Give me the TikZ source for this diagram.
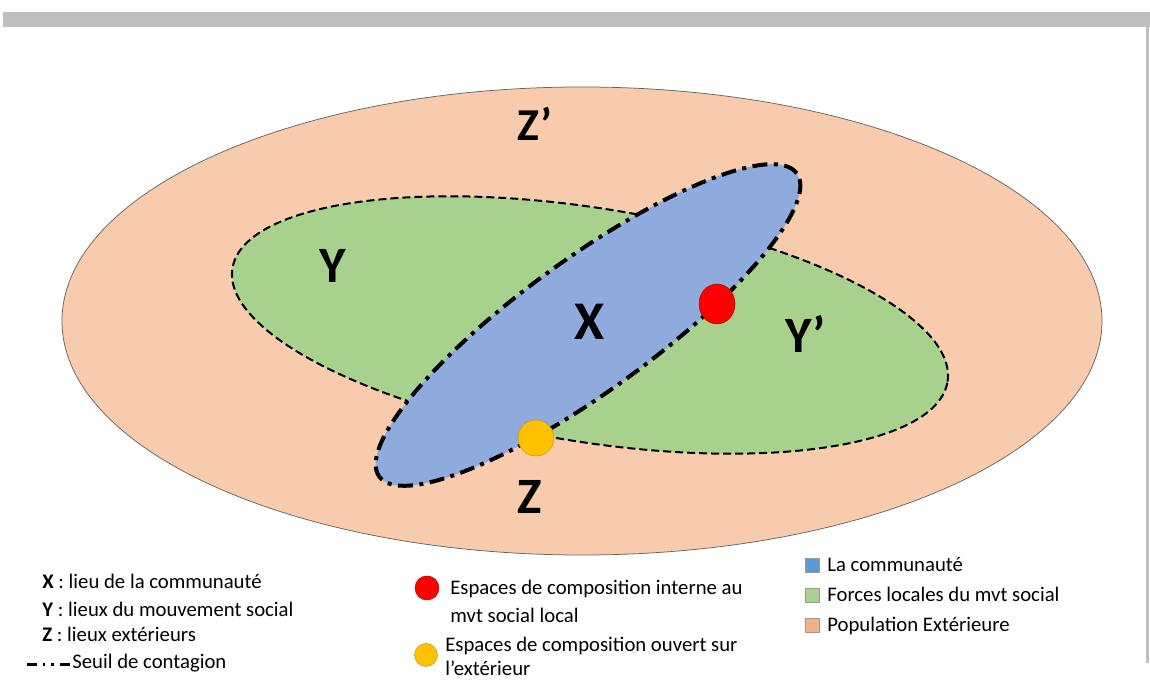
\documentclass[tikz,border=0pt]{standalone}
\usepackage{fontspec}
\setmainfont{Carlito}
\usetikzlibrary{positioning}
\definecolor{peach}{HTML}{F8CBAD}
\definecolor{leafgreen}{HTML}{A9D18E}
\definecolor{skyblue}{HTML}{8FAADC}
\definecolor{boxblue}{HTML}{5B9BD5}
\definecolor{boxorange}{HTML}{F4B183}
\definecolor{dotyellow}{HTML}{FFC000}
\definecolor{bargray}{HTML}{BFBFBF}

\begin{document}
\begin{tikzpicture}[x=0.2mm,y=0.2mm,
zone/.style={font=\fontsize{29}{34}\selectfont\bfseries,inner sep=0pt},
legtext/.style={font=\fontsize{11.8}{14}\selectfont,anchor=base west,inner sep=0pt},
legbox/.style={draw=black!40,minimum size=2.8mm,inner sep=0pt},
seuil/.style={line width=0.8mm,dash pattern=on 3mm off 1.3mm on 0.8mm off 1.3mm},
mvtline/.style={line width=0.4mm,dash pattern=on 1.6mm off 0.8mm}]
\useasboundingbox (0,0) rectangle (1150,681);
% frame
\fill [bargray] (3,654) rectangle (1150,669);
\draw [bargray,line width=0.7mm] (1147.5,654) -- (1147.5,18);
% zones
\filldraw [fill=peach,draw=black!60,line width=0.15mm] (582,360) ellipse [x radius=520,y radius=234];
\filldraw [fill=leafgreen,mvtline,rotate around={-9:(590,356)}] (590,356) ellipse [x radius=362,y radius=117];
\filldraw [fill=skyblue,seuil,rotate around={36:(588,356)}] (588,356) ellipse [x radius=258,y radius=66];
\filldraw [fill=red,draw=red!70!black,line width=0.1mm] (717,377) ellipse [x radius=18,y radius=20];
\filldraw [fill=dotyellow,draw=dotyellow!80!black,line width=0.1mm] (536,243) circle [radius=18];
\node (zext) [zone,font=\fontsize{26}{30}\selectfont\bfseries] at (535,557) {Z’};
\node (ymvt) [zone] at (333,415) {Y};
\node (xcom) [zone,font=\fontsize{31}{36}\selectfont\bfseries] at (589,359) {X};
\node (yint) [zone] at (806,347) {Y’};
\node (zlieu) [zone] at (530,184) {Z};
% legend, left
\node (lx) [legtext] at (42,92) {\textbf{X} : lieu de la communauté};
\node (ly) [legtext] at (42,64) {\textbf{Y} : lieux du mouvement social};
\node (lz) [legtext] at (42,39) {\textbf{Z} : lieux extérieurs};
\coordinate (seuilA) at (27,16);
\coordinate (seuilB) at (70,16);
\draw [line width=0.6mm,dash pattern=on 1.9mm off 1.2mm on 0.55mm off 1.2mm on 0.55mm off 1.2mm] (seuilA) -- (seuilB);
\node (lseuil) [legtext] at (72,12) {Seuil de contagion};
% legend, middle
\filldraw [fill=red,draw=red!70!black,line width=0.1mm] (427,93) circle [radius=12];
\node (linterne) [legtext] at (450,86) {Espaces de composition interne au};
\node (linterne2) [legtext] at (450,58) {mvt social local};
\filldraw [fill=dotyellow,draw=dotyellow!80!black,line width=0.1mm] (426,26) circle [radius=11.5];
\node (louvert) [legtext] at (445,29) {Espaces de composition ouvert sur};
\node (louvert2) [legtext] at (445,5) {l’extérieur};
% legend, right
\node (bcom) [legbox,fill=boxblue] at (812,116) {};
\node (bmvt) [legbox,fill=leafgreen] at (812,86) {};
\node (bpop) [legbox,fill=boxorange] at (812,56) {};
\node (lcom) [legtext] at (827,109) {La communauté};
\node (lmvt) [legtext] at (827,79) {Forces locales du mvt social};
\node (lpop) [legtext] at (827,49) {Population Extérieure};
\end{tikzpicture}
\end{document}
